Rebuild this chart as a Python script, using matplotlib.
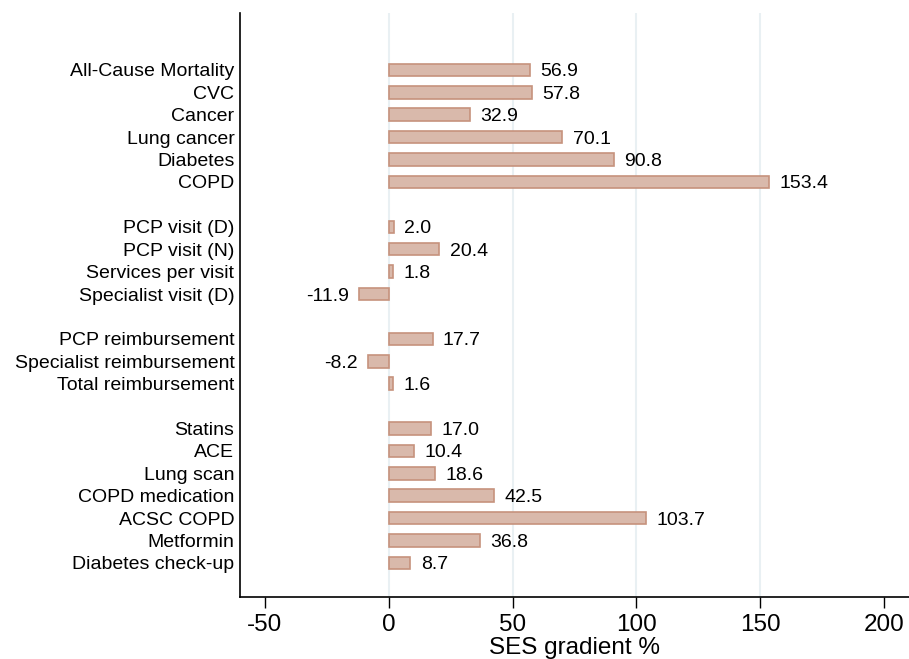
import matplotlib
matplotlib.use("Agg")
import matplotlib.pyplot as plt

plt.rcParams['font.family'] = ['Liberation Sans', 'DejaVu Sans']

labels = ["All-Cause Mortality", "CVC", "Cancer", "Lung cancer", "Diabetes", "COPD",
          "PCP visit (D)", "PCP visit (N)", "Services per visit", "Specialist visit (D)",
          "PCP reimbursement", "Specialist reimbursement", "Total reimbursement",
          "Statins", "ACE", "Lung scan", "COPD medication", "ACSC COPD", "Metformin",
          "Diabetes check-up"]
values = [56.9, 57.8, 32.9, 70.1, 90.8, 153.4,
          2.0, 20.4, 1.8, -11.9,
          17.7, -8.2, 1.6,
          17.0, 10.4, 18.6, 42.5, 103.7, 36.8, 8.7]
positions = [0, 1, 2, 3, 4, 5,
             7, 8, 9, 10,
             12, 13, 14,
             16, 17, 18, 19, 20, 21, 22]
xticks = [-50, 0, 50, 100, 150, 200]

fig = plt.figure(figsize=(9.09, 6.59), dpi=100)
ax = fig.add_axes([240/909, 1-597/659, 1-240/909, (597-13)/659])

for g in [0, 50, 100, 150]:
    ax.axvline(g, color='#e9f0f3', lw=1.5, zorder=0)

ax.barh(positions, values, height=0.56, color='#d9b9ab', edgecolor='#c6927d', lw=1.2, zorder=2)

for p, v in zip(positions, values):
    if v >= 0:
        ax.annotate(f"{v:.1f}", (v, p), xytext=(7.5, 0), textcoords='offset points',
                    ha='left', va='center_baseline', fontsize=14)
    else:
        ax.annotate(f"{v:.1f}", (v, p), xytext=(-7.5, 0), textcoords='offset points',
                    ha='right', va='center_baseline', fontsize=14)

ax.set_xlim(-60, 210)
ax.set_ylim(23.52, -2.54)
ax.set_yticks(positions)
ax.set_yticklabels(labels, fontsize=14)
ax.set_xticks(xticks)
ax.set_xticklabels([str(t) for t in xticks], fontsize=17.5)
ax.tick_params(axis='y', length=0, pad=4)
ax.tick_params(axis='x', length=8, width=1, pad=4)
ax.spines['top'].set_visible(False)
ax.spines['right'].set_visible(False)
ax.spines['left'].set_linewidth(1.2)
ax.spines['bottom'].set_linewidth(1.2)
ax.set_xlabel("SES gradient %", fontsize=17.5, labelpad=1)

fig.savefig("out.png", dpi=100)
